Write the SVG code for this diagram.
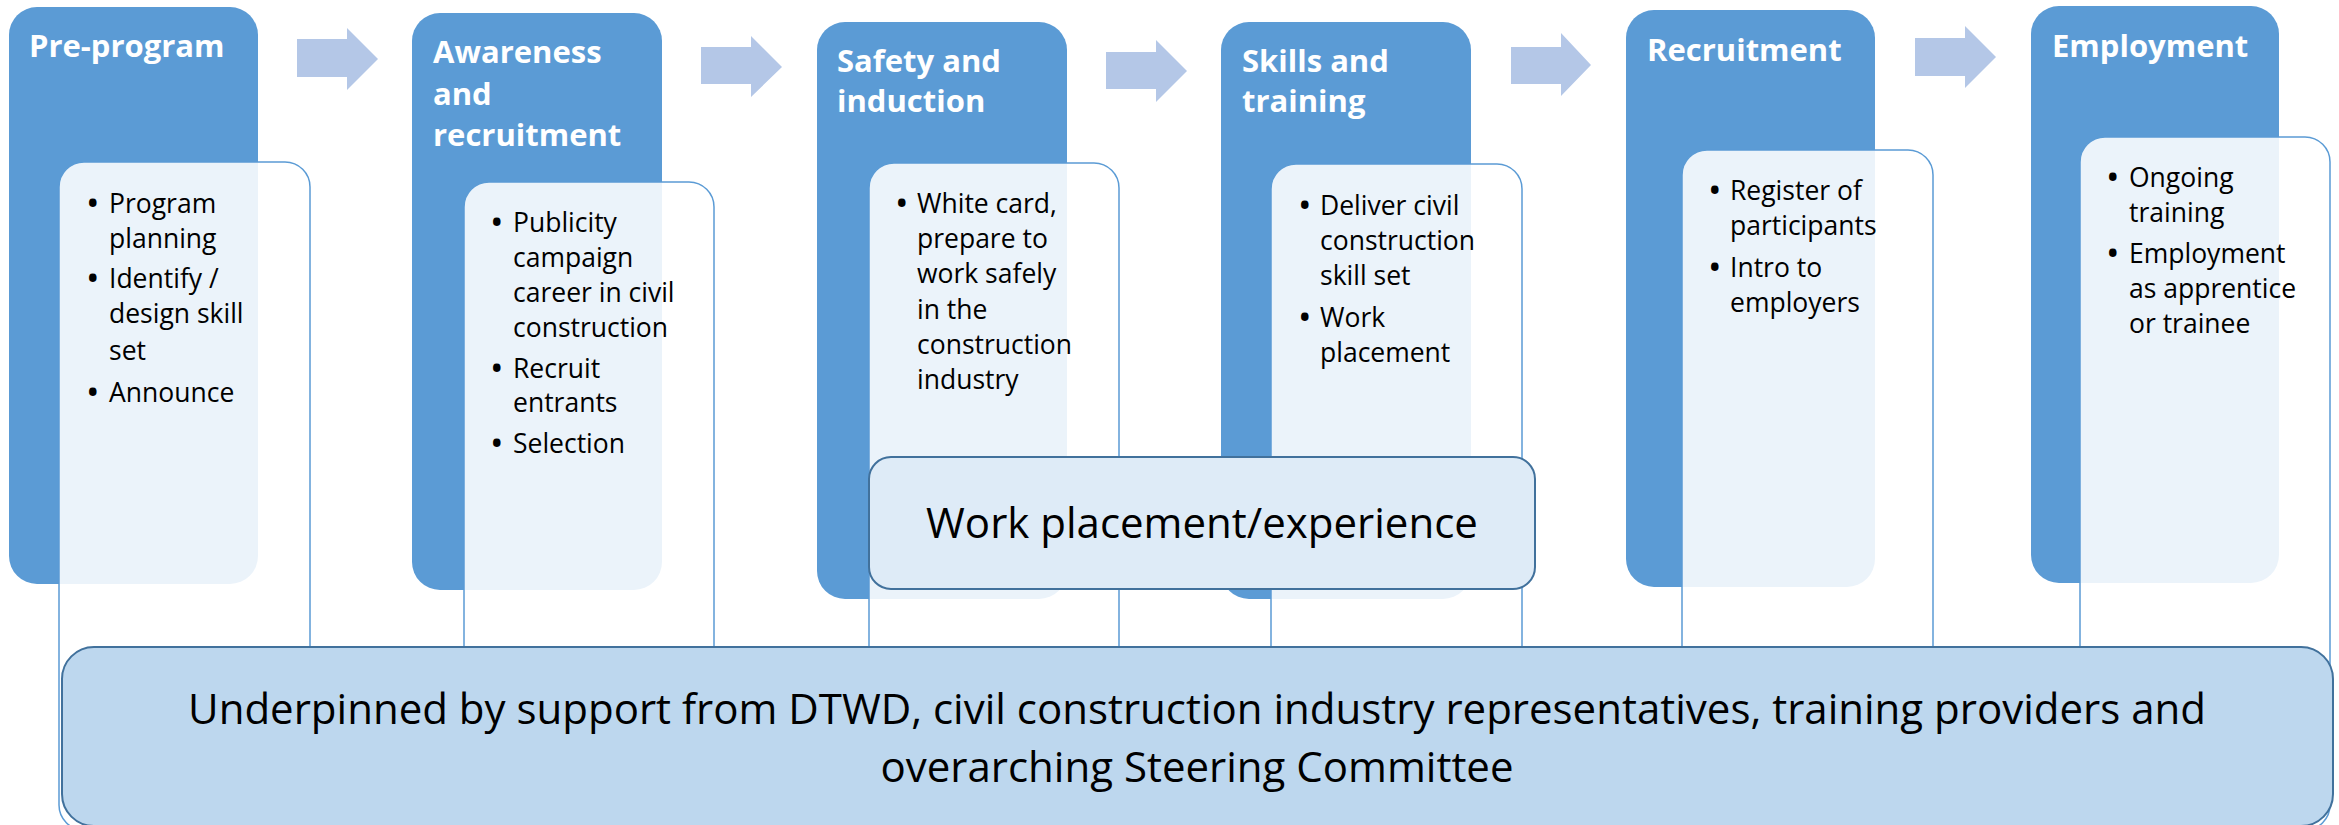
<svg xmlns="http://www.w3.org/2000/svg" width="2339" height="825" viewBox="0 0 2339 825">
<style>
.dark{fill:#5B9BD5;}
.light{fill:#FFFFFF;fill-opacity:0.88;stroke:#5B9BD5;stroke-width:1.5;}
.arrow{fill:#B4C7E7;}
.hdr{font-family:"Open Sans","Liberation Sans",sans-serif;font-weight:bold;font-size:31px;fill:#FFFFFF;}
.body{font-family:"Open Sans","Liberation Sans",sans-serif;font-size:26.5px;fill:#000000;}
.bul{font-size:36px;}
.big{font-family:"Open Sans","Liberation Sans",sans-serif;font-size:42px;fill:#000000;text-anchor:middle;}
.wp{fill:#DEEBF7;stroke:#41719C;stroke-width:2;}
.base{fill:#BDD7EE;stroke:#41719C;stroke-width:2;}
</style>
<rect width="2339" height="825" fill="#FFFFFF"/>

<g id="connectors">
<polygon class="arrow" points="297,39 347,39 347,28 378,59 347,90 347,77 297,77"/>
<polygon class="arrow" points="701,47 751,47 751,36 782,67 751,97 751,84 701,84"/>
<polygon class="arrow" points="1106,52 1156,52 1156,40 1187,71 1156,102 1156,89 1106,89"/>
<polygon class="arrow" points="1511,47 1561,47 1561,33 1591,65 1561,96 1561,84 1511,84"/>
<polygon class="arrow" points="1915,38 1965,38 1965,26 1996,57 1965,88 1965,76 1915,76"/>
</g>

<g id="node-preprogram">
<rect class="dark" x="9" y="7" width="249" height="577" rx="28"/>
<rect class="light" x="59" y="162" width="251" height="668" rx="25"/>
<text class="hdr" x="29" y="57">Pre-program</text>
<text class="body"><tspan class="bul" x="86" y="216">•</tspan><tspan x="109" y="213">Program</tspan><tspan x="109" y="248">planning</tspan><tspan class="bul" x="86" y="291">•</tspan><tspan x="109" y="288">Identify /</tspan><tspan x="109" y="323">design skill</tspan><tspan x="109" y="360">set</tspan><tspan class="bul" x="86" y="405">•</tspan><tspan x="109" y="402">Announce</tspan></text>
</g>

<g id="node-awareness">
<rect class="dark" x="412" y="13" width="250" height="577" rx="28"/>
<rect class="light" x="464" y="182" width="250" height="648" rx="25"/>
<text class="hdr"><tspan x="433" y="63">Awareness</tspan><tspan x="433" y="105">and</tspan><tspan x="433" y="146">recruitment</tspan></text>
<text class="body"><tspan class="bul" x="490" y="235">•</tspan><tspan x="513" y="232">Publicity</tspan><tspan x="513" y="267">campaign</tspan><tspan x="513" y="302">career in civil</tspan><tspan x="513" y="337">construction</tspan><tspan class="bul" x="490" y="381">•</tspan><tspan x="513" y="378">Recruit</tspan><tspan x="513" y="412">entrants</tspan><tspan class="bul" x="490" y="456">•</tspan><tspan x="513" y="453">Selection</tspan></text>
</g>

<g id="node-safety">
<rect class="dark" x="817" y="22" width="250" height="577" rx="28"/>
<rect class="light" x="869" y="163" width="250" height="667" rx="25"/>
<text class="hdr"><tspan x="837" y="72">Safety and</tspan><tspan x="837" y="112">induction</tspan></text>
<text class="body"><tspan class="bul" x="895" y="216">•</tspan><tspan x="917" y="213">White card,</tspan><tspan x="917" y="248">prepare to</tspan><tspan x="917" y="283">work safely</tspan><tspan x="917" y="319">in the</tspan><tspan x="917" y="354">construction</tspan><tspan x="917" y="389">industry</tspan></text>
</g>

<g id="node-skills">
<rect class="dark" x="1221" y="22" width="250" height="577" rx="28"/>
<rect class="light" x="1271" y="164" width="251" height="666" rx="25"/>
<text class="hdr"><tspan x="1242" y="72">Skills and</tspan><tspan x="1242" y="112">training</tspan></text>
<text class="body"><tspan class="bul" x="1298" y="218">•</tspan><tspan x="1320" y="215">Deliver civil</tspan><tspan x="1320" y="250">construction</tspan><tspan x="1320" y="285">skill set</tspan><tspan class="bul" x="1298" y="330">•</tspan><tspan x="1320" y="327">Work</tspan><tspan x="1320" y="362">placement</tspan></text>
</g>

<g id="node-recruitment">
<rect class="dark" x="1626" y="10" width="249" height="577" rx="28"/>
<rect class="light" x="1682" y="150" width="251" height="680" rx="25"/>
<text class="hdr" x="1647" y="61">Recruitment</text>
<text class="body"><tspan class="bul" x="1708" y="203">•</tspan><tspan x="1730" y="200">Register of</tspan><tspan x="1730" y="235">participants</tspan><tspan class="bul" x="1708" y="280">•</tspan><tspan x="1730" y="277">Intro to</tspan><tspan x="1730" y="312">employers</tspan></text>
</g>

<g id="node-employment">
<rect class="dark" x="2031" y="6" width="248" height="577" rx="28"/>
<rect class="light" x="2080" y="137" width="250" height="693" rx="25"/>
<text class="hdr" x="2052" y="57">Employment</text>
<text class="body"><tspan class="bul" x="2106" y="190">•</tspan><tspan x="2129" y="187">Ongoing</tspan><tspan x="2129" y="222">training</tspan><tspan class="bul" x="2106" y="266">•</tspan><tspan x="2129" y="263">Employment</tspan><tspan x="2129" y="298">as apprentice</tspan><tspan x="2129" y="333">or trainee</tspan></text>
</g>

<g id="node-workplacement">
<rect class="wp" x="869" y="457" width="666" height="132" rx="22"/>
<text class="big" x="1202" y="538">Work placement/experience</text>
</g>

<g id="node-support">
<rect class="base" x="62" y="647" width="2271" height="179" rx="32"/>
<text class="big"><tspan x="1197" y="724">Underpinned by support from DTWD, civil construction industry representatives, training providers and</tspan><tspan x="1197" y="782">overarching Steering Committee</tspan></text>
</g>
</svg>
